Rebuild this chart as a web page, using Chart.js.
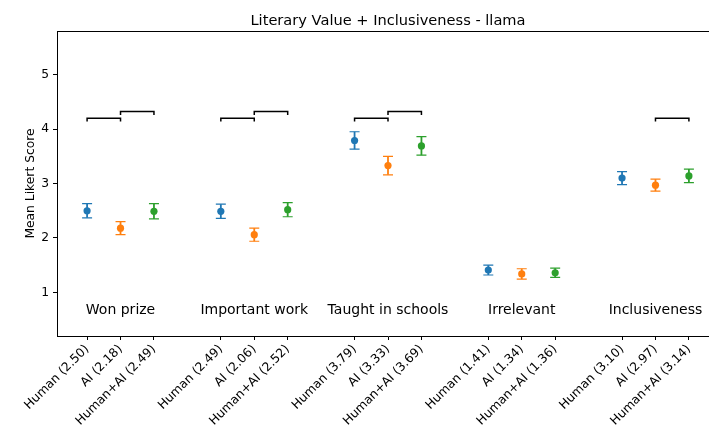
<!DOCTYPE html>
<html>
<head>
<meta charset="utf-8">
<script src="https://cdn.jsdelivr.net/npm/chart.js@4.4.1/dist/chart.umd.min.js"></script>
<style>
  html, body { margin: 0; padding: 0; overflow: hidden; background: #fff; }
  #wrap { width: 740px; height: 426px; }
</style>
</head>
<body>
<div id="wrap"><canvas id="c" width="740" height="426"></canvas></div>
<script>
// Rating categories and the three authorship conditions
const categories = ['Won prize', 'Important work', 'Taught in schools', 'Irrelevant', 'Inclusiveness'];
const seriesNames = ['Human', 'AI', 'Human+AI'];

// Mean Likert scores per category
const humanMeans  = [2.50, 2.49, 3.79, 1.41, 3.10];
const aiMeans     = [2.18, 2.06, 3.33, 1.34, 2.97];
const hybridMeans = [2.49, 2.52, 3.69, 1.36, 3.14];

// Half-width of the error bar for each mean
const humanErr  = [0.13, 0.13, 0.16, 0.09, 0.12];
const aiErr     = [0.12, 0.12, 0.17, 0.095, 0.11];
const hybridErr = [0.14, 0.13, 0.17, 0.085, 0.125];

const yTicks = [1, 2, 3, 4, 5];

// Significance brackets: [category, from condition, to condition, height]
const brackets = [
  [0, 0, 1, 4.2], [0, 1, 2, 4.32],
  [1, 0, 1, 4.2], [1, 1, 2, 4.32],
  [2, 0, 1, 4.2], [2, 1, 2, 4.32],
  [4, 1, 2, 4.2]
];
const groupLabelLevel = 0.7;

const colors = ['#1f77b4', '#ff7f0e', '#2ca02c'];
const FONT = 'DejaVu Sans';
const TICK_SIZE = 12.3;
const GROUP_STEP = 4;

const meansBySeries = [humanMeans, aiMeans, hybridMeans];
const errBySeries = [humanErr, aiErr, hybridErr];
const xPos = (g, s) => g * GROUP_STEP + s;

// x tick value -> "Name (mean)"
const tickValues = [];
const tickText = {};
categories.forEach((_, g) => {
  seriesNames.forEach((name, s) => {
    const v = xPos(g, s);
    tickValues.push(v);
    tickText[v] = name + ' (' + meansBySeries[s][g].toFixed(2) + ')';
  });
});

const datasets = seriesNames.map((name, s) => ({
  label: name,
  data: categories.map((_, g) => ({ x: xPos(g, s), y: meansBySeries[s][g], err: errBySeries[s][g] })),
  backgroundColor: colors[s],
  borderColor: colors[s],
  pointRadius: 3.6,
  pointBorderWidth: 0,
  showLine: false
}));

// Vertical error bars with caps, drawn under the markers
const errorBarPlugin = {
  id: 'errorBars',
  beforeDatasetsDraw(chart) {
    const { ctx, scales: { x, y } } = chart;
    ctx.save();
    chart.data.datasets.forEach(ds => {
      ctx.strokeStyle = ds.borderColor;
      ds.data.forEach(p => {
        const px = x.getPixelForValue(p.x);
        const lo = y.getPixelForValue(p.y - p.err);
        const hi = y.getPixelForValue(p.y + p.err);
        ctx.lineWidth = 1.8;
        ctx.beginPath();
        ctx.moveTo(px, lo);
        ctx.lineTo(px, hi);
        ctx.stroke();
        ctx.lineWidth = 1.2;
        ctx.beginPath();
        ctx.moveTo(px - 5, lo); ctx.lineTo(px + 5, lo);
        ctx.moveTo(px - 5, hi); ctx.lineTo(px + 5, hi);
        ctx.stroke();
      });
    });
    ctx.restore();
  }
};

// Frame, significance brackets and category captions
const annotationPlugin = {
  id: 'annotations',
  afterDatasetsDraw(chart) {
    const { ctx, chartArea: a, scales: { x, y } } = chart;
    ctx.save();
    ctx.strokeStyle = '#000';
    ctx.lineWidth = 1;
    ctx.beginPath();
    ctx.moveTo(a.left, Math.round(a.top) + 0.5);
    ctx.lineTo(a.right, Math.round(a.top) + 0.5);
    ctx.moveTo(Math.round(a.right) + 0.5, a.top);
    ctx.lineTo(Math.round(a.right) + 0.5, a.bottom);
    ctx.stroke();

    ctx.lineWidth = 1.5;
    brackets.forEach(([g, s1, s2, h]) => {
      const x1 = x.getPixelForValue(xPos(g, s1));
      const x2 = x.getPixelForValue(xPos(g, s2));
      const yTop = y.getPixelForValue(h);
      const yEnd = y.getPixelForValue(h - 0.06);
      ctx.beginPath();
      ctx.moveTo(x1, yEnd);
      ctx.lineTo(x1, yTop);
      ctx.lineTo(x2, yTop);
      ctx.lineTo(x2, yEnd);
      ctx.stroke();
    });

    ctx.fillStyle = '#000';
    ctx.font = '14px "' + FONT + '"';
    ctx.textAlign = 'center';
    ctx.textBaseline = 'alphabetic';
    categories.forEach((cat, g) => {
      ctx.fillText(cat, x.getPixelForValue(xPos(g, 1)), y.getPixelForValue(groupLabelLevel) + 5.2);
    });
    ctx.restore();
  }
};

const axisGrid = { display: true, drawOnChartArea: false, drawTicks: true, tickLength: 4, color: '#000', lineWidth: 1 };
const axisBorder = { display: true, color: '#000', width: 1 };

new Chart(document.getElementById('c'), {
  type: 'scatter',
  data: { datasets },
  plugins: [errorBarPlugin, annotationPlugin],
  options: {
    responsive: false,
    animation: false,
    devicePixelRatio: 1,
    layout: { padding: { left: 0, right: 21, top: 0, bottom: 0 } },
    plugins: {
      legend: { display: false },
      tooltip: { enabled: false },
      title: {
        display: true,
        text: 'Literary Value + Inclusiveness - llama',
        fullSize: false,
        color: '#000',
        font: { family: FONT, size: 14.6, weight: 'normal' },
        padding: { top: 12.2, bottom: 1.3 }
      }
    },
    scales: {
      x: {
        type: 'linear',
        min: -0.9,
        max: 18.9,
        afterBuildTicks: s => { s.ticks = tickValues.map(v => ({ value: v })); },
        afterFit: s => { s.height = 90; },
        grid: axisGrid,
        border: axisBorder,
        ticks: {
          autoSkip: false,
          minRotation: 45,
          maxRotation: 45,
          padding: 2,
          color: '#000',
          font: { family: FONT, size: TICK_SIZE },
          callback: v => tickText[v]
        }
      },
      y: {
        min: 0.2,
        max: 5.8,
        afterBuildTicks: s => { s.ticks = yTicks.map(v => ({ value: v })); },
        afterFit: s => { s.width = 57; },
        grid: axisGrid,
        border: axisBorder,
        ticks: {
          padding: 4,
          color: '#000',
          font: { family: FONT, size: TICK_SIZE },
          callback: v => String(v)
        },
        title: {
          display: true,
          text: 'Mean Likert Score',
          color: '#000',
          font: { family: FONT, size: TICK_SIZE },
          padding: { top: 23, bottom: 0 }
        }
      }
    }
  }
});
</script>
</body>
</html>
